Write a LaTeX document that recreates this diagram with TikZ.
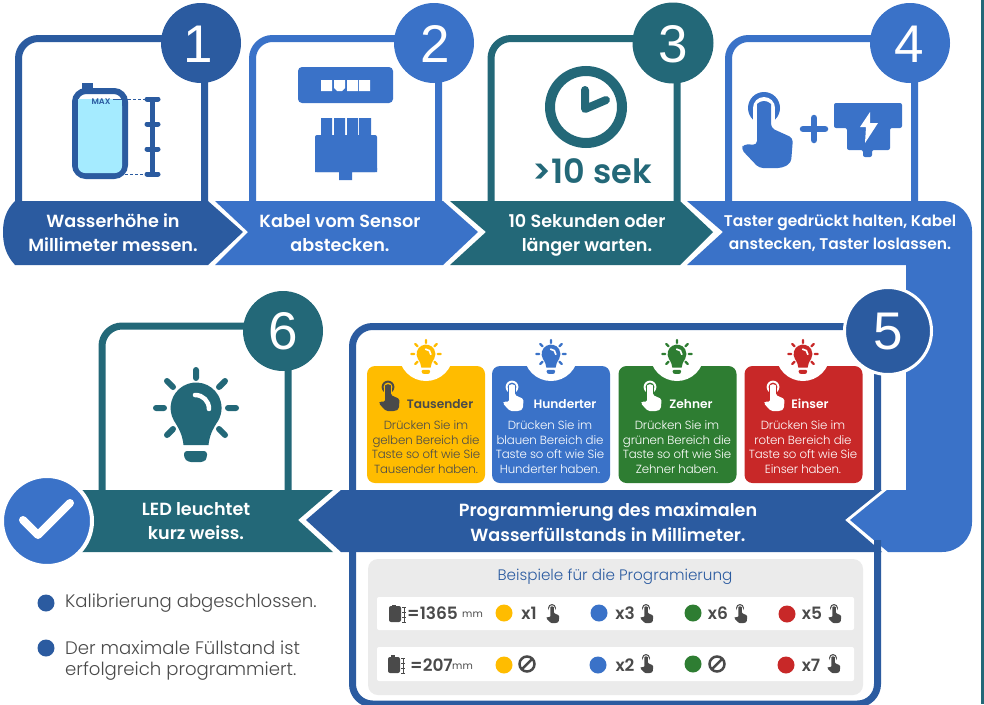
\documentclass[tikz,border=0pt]{standalone}
\usepackage{fontspec}
\setmainfont{Poppins}
\newfontfamily\numfont{Liberation Sans}
\newfontfamily\semif{Poppins SemiBold}
\newfontfamily\lightf{Poppins Light}
\definecolor{dkblue}{HTML}{2B5BA0}
\definecolor{midblue}{HTML}{3A72C8}
\definecolor{tealc}{HTML}{236878}
\definecolor{yel}{HTML}{FFBC00}
\definecolor{grn}{HTML}{2E7D32}
\definecolor{redc}{HTML}{C82828}
\definecolor{greyt}{HTML}{4A4A4A}
\definecolor{panelg}{HTML}{EBEBEB}
\definecolor{water}{HTML}{A5EBFF}
\newcommand{\fs}[1]{\fontsize{#1}{#1}\selectfont}
\newcommand{\handicon}[5]{%
\begin{scope}[shift={(#1,#2)},scale=#3]
\fill[#4] (0,0) circle (16);
\fill[#5] (0,0) circle (11);
\fill[#5] (-11,0) rectangle (11,18);
\fill[#4,rounded corners=#3*4pt] (-7,22) -- (-7,0) arc (180:360:7) -- (7,20) -- (29,30) -- (27,55) -- (18,60) -- (-5,60) -- (-23,41) -- (-20,36) -- (-7,37) -- cycle;
\end{scope}}
\newcommand{\bulbicon}[4]{%
\begin{scope}[shift={(#1,#2)},scale=#3]
\fill[#4] (-12.5,37) .. controls (-13.5,28) and (-16,22) .. (-22,12.75) arc[start angle=150,end angle=390,radius=25.5] .. controls (16,22) and (13.5,28) .. (12.5,37) -- cycle;
\fill[#4,rounded corners=#3*3pt] (-12,43) -- (11,43) -- (11,50) -- (8,54) -- (-8,54) -- (-12,50) -- cycle;
\draw[#4,line width=#3*6pt,line cap=round] (0,-38) -- (0,-30) (-40,0) -- (-32,0) (32,0) -- (40,0) (-29,-27) -- (-23,-21) (29,-27) -- (23,-21) (-29,27) -- (-23,21) (29,27) -- (23,21);
\draw[white,line width=#3*4.5pt,line cap=round] (-1,-13) .. controls (7,-13) and (13,-7) .. (13,1);
\end{scope}}
\newcommand{\cardbox}[3]{%
\fill[#3,rounded corners=8pt] (#1,366) rectangle (#1+118,483);
\begin{scope}
\clip (#1,366) rectangle (#1+118,483);
\fill[white] (#2,354) circle (27);
\end{scope}}
\begin{document}
\begin{tikzpicture}[x=1pt,y=-1pt,
  framec/.style={line width=7pt,rounded corners=20pt},
  bandtext/.style={white,font=\fs{17.6}\semif,align=center,inner sep=0,text depth=0pt},
  cardtext/.style={font=\fontsize{11.8}{14.7}\selectfont\lightf\addfontfeature{LetterSpace=-1},align=center,inner sep=0},
  cardtitle/.style={font=\fs{12.2}\semif,inner sep=0},
  num/.style={white,font=\fs{53}\numfont,inner sep=0},
  rowtext/.style={greyt,font=\fs{17}\semif,inner sep=0},
  dot/.style={circle,minimum size=17pt,inner sep=0},
  bullet/.style={greyt,font=\fs{18.1}\lightf,anchor=west,inner sep=0,align=left}]
\useasboundingbox (0,0) rectangle (984,704);
\fill[white] (0,0) rectangle (984,704);
\fill[tealc] (981,0) rectangle (984,704);
% panel frames
\draw[framec,dkblue] (18.5,201) -- (18.5,38.5) -- (204.5,38.5) -- (204.5,201);
\draw[framec,midblue] (252.5,201) -- (252.5,38.5) -- (438.5,38.5) -- (438.5,201);
\draw[framec,tealc] (491,201) -- (491,38.5) -- (677,38.5) -- (677,201);
\draw[framec,midblue] (728.5,201) -- (728.5,38.5) -- (914.5,38.5) -- (914.5,201);
\draw[framec,tealc] (102,490) -- (102,326) -- (288,326) -- (288,490);
% band 4 (large blue)
\fill[midblue] (687,201) -- (942,201) arc (-90:0:30) -- (972,522) arc (0:90:30) -- (888,552) -- (850,520) -- (887,490) -- (906,490) -- (906,265) -- (687,265) -- (723,232) -- cycle;
\draw[framec,dkblue] (352.5,490) -- (352.5,326.5) -- (877.5,326.5) -- (877.5,490);
\draw[framec,dkblue] (352.5,540) -- (352.5,704) -- (877.5,704) -- (877.5,540);
% bands
\fill[dkblue] (15,201) -- (208,201) -- (243,232) -- (208,265) -- (15,265) .. controls (6,255) and (3,245) .. (3,232) .. controls (3,220) and (6,210) .. (15,201) -- cycle;
\fill[midblue] (215,201) -- (443,201) -- (478,232) -- (443,265) -- (215,265) -- (248,232) -- cycle;
\fill[tealc] (450,201) -- (680,201) -- (713,232) -- (680,265) -- (450,265) -- (486,232) -- cycle;
\fill[tealc] (60,490) -- (333,490) -- (298,520) -- (333,552) -- (60,552) -- cycle;
\fill[dkblue] (341,490) -- (882,490) -- (845,520) -- (882,552) -- (341,552) -- (306,520) -- cycle;
% circles
\fill[dkblue] (201,43) circle (40);
\fill[midblue] (434,43) circle (40);
\fill[tealc] (673,43) circle (40.5);
\fill[midblue] (910,43) circle (40);
\fill[dkblue,draw=white,line width=3pt] (888,331) circle (43.5);
\fill[tealc] (283,331) circle (40);
\fill[midblue,draw=white,line width=4pt] (47,521) circle (45);
\draw[white,line width=8pt,line cap=round,line join=round] (23,520) -- (38,535) -- (70,503);
\node[num] (n1) at (198,44) {1};
\node[num] (n2) at (435,44) {2};
\node[num] (n3) at (673,44) {3};
\node[num] (n4) at (909,44) {4};
\node[num] (n5) at (888,332) {5};
\node[num] (n6) at (283,331) {6};
% band labels
\node[bandtext] (b1) at (113,233) {Wasserhöhe in\\[6.4pt]Millimeter messen.};
\node[bandtext] (b2) at (340,233) {Kabel vom Sensor\\[6.4pt]abstecken.};
\node[bandtext] (b3) at (587,233) {10 Sekunden oder\\[6.4pt]länger warten.};
\node[bandtext,font=\fs{15.5}\semif] (b4) at (840,232) {Taster gedrückt halten, Kabel\\[6.5pt]anstecken, Taster loslassen.};
\node[bandtext] (b5) at (608,522) {Programmierung des maximalen\\[5.9pt]Wasserfüllstands in Millimeter.};
\node[bandtext] (b6) at (196,521) {LED leuchtet\\[6.4pt]kurz weiss.};
% tank
\fill[dkblue] (82,83) rectangle (93,90);
\fill[white,draw=dkblue,line width=6pt,rounded corners=11pt] (75,91) rectangle (125,176);
\fill[water,rounded corners=7pt] (78,99) -- (122,99) -- (122,173) -- (78,173) -- cycle;
\fill[water] (78,99) rectangle (122,110);
\node[font=\fs{8.2}\semif,text=dkblue,inner sep=0] (maxt) at (101,102) {MAX};
\draw[dkblue,line width=1pt] (113,99) -- (128,99);
\draw[dkblue,line width=1pt,densely dashed] (128,99) -- (145,99) (125,174) -- (145,174);
\draw[dkblue,line width=5pt] (152,99) -- (152,174);
\draw[dkblue,line width=5pt,line cap=round] (147,99) -- (158,99) (147,124) -- (158,124) (147,149) -- (158,149) (147,174) -- (158,174);
% sensor
\fill[midblue,rounded corners=4pt] (298,67) rectangle (393,103);
\fill[white] (321,80) rectangle (332,91) (347,80) rectangle (358,91) (359,80) rectangle (370,91);
\fill[white] (334,80) -- (345,80) -- (345,88) -- (342,91) -- (337,91) -- (334,88) -- cycle;
\fill[midblue] (321,118) rectangle (332,136) (334,118) rectangle (345,136) (347,118) rectangle (358,136) (359,118) rectangle (371,136);
\fill[midblue,rounded corners=2pt] (315,172) -- (315,135) -- (377,135) -- (377,172) -- cycle;
\fill[midblue] (315,168) rectangle (377,172) (339,170) rectangle (352,180);
% clock
\draw[tealc,line width=10pt] (586,107) circle (36);
\draw[tealc,line width=8pt,line cap=round,line join=round] (585,90) -- (585,109) -- (606,100);
\node[tealc,font=\fs{33.5}\semif,inner sep=0] (sek) at (592,171) {>10 sek};
% panel 4 icons
\handicon{764}{108}{1}{midblue}{white}
\draw[midblue,line width=6.5pt,line cap=round] (803,129) -- (825,129) (814,118) -- (814,140);
\fill[midblue,rounded corners=2pt] (834,103) -- (902,103) -- (902,128) -- (890,128) -- (890,150) -- (872,150) -- (872,157) -- (863,157) -- (863,150) -- (847,150) -- (847,128) -- (834,128) -- cycle;
\fill[white] (870,112) -- (860,127) -- (866,127) -- (865,143) -- (878,123) -- (870,123) -- cycle;
% panel 6 bulb
\bulbicon{196}{408}{1}{tealc}
% cards
\cardbox{367}{426}{yel}
\cardbox{492}{551}{midblue}
\cardbox{618.5}{677}{grn}
\cardbox{744.5}{803}{redc}
\bulbicon{426}{354}{0.37}{yel}
\bulbicon{551}{354}{0.37}{midblue}
\bulbicon{677}{354}{0.37}{grn}
\bulbicon{803}{354}{0.37}{redc}
\handicon{388}{387}{0.4}{greyt}{yel}
\handicon{512}{387}{0.4}{white}{midblue}
\handicon{650}{387}{0.4}{white}{grn}
\handicon{773}{387}{0.4}{white}{redc}
\node[cardtitle,text=greyt] (t1) at (440,404) {Tausender};
\node[cardtitle,text=white] (t2) at (565,404) {Hunderter};
\node[cardtitle,text=white] (t3) at (691,404) {Zehner};
\node[cardtitle,text=white] (t4) at (810,404) {Einser};
\node[cardtext,text=greyt] (c1) at (426,447) {Drücken Sie im\\gelben Bereich die\\Taste so oft wie Sie\\Tausender haben.};
\node[cardtext,text=white] (c2) at (550,447) {Drücken Sie im\\blauen Bereich die\\Taste so oft wie Sie\\Hunderter haben.};
\node[cardtext,text=white] (c3) at (677,447) {Drücken Sie im\\grünen Bereich die\\Taste so oft wie Sie\\Zehner haben.};
\node[cardtext,text=white] (c4) at (803,447) {Drücken Sie im\\roten Bereich die\\Taste so oft wie Sie\\Einser haben.};
% examples
\fill[panelg,rounded corners=10pt] (368,559) rectangle (863,695);
\fill[white,rounded corners=2pt] (377,597) rectangle (854,630);
\fill[white,rounded corners=2pt] (377,647) rectangle (854,681);
\node[dkblue,font=\fs{15.2}\lightf,inner sep=0] (ex) at (615,577) {Beispiele für die Programierung};
% row 1
\fill[greyt,rounded corners=2pt] (389,606) rectangle (401,622);
\fill[greyt] (392,604.5) rectangle (396,607);
\draw[greyt,line width=0.8pt] (404,607) -- (404,622) (402,607) -- (406,607) (402,612) -- (406,612) (402,617) -- (406,617) (402,622) -- (406,622);
\node[rowtext,anchor=west] (r1) at (407,613) {=1365};
\node[greyt,font=\fs{10},inner sep=0,anchor=west] (m1) at (462,615) {mm};
\node[dot,fill=yel] (d11) at (504,613) {};
\node[dot,fill=midblue] (d12) at (599,613) {};
\node[dot,fill=grn] (d13) at (693,613) {};
\node[dot,fill=redc] (d14) at (787,614) {};
\node[rowtext] (x11) at (529,613) {x1};
\node[rowtext] (x12) at (625,613) {x3};
\node[rowtext] (x13) at (718,613) {x6};
\node[rowtext] (x14) at (812,613) {x5};
\handicon{552}{608}{0.25}{greyt}{white}
\handicon{646}{608}{0.25}{greyt}{white}
\handicon{740}{608}{0.25}{greyt}{white}
\handicon{834}{608}{0.25}{greyt}{white}
% row 2
\fill[greyt,rounded corners=2pt] (388,657) rectangle (400,673);
\fill[greyt] (391,655) rectangle (395,658);
\draw[greyt,line width=0.8pt] (403,658) -- (403,673) (401,658) -- (405,658) (401,663) -- (405,663) (401,668) -- (405,668) (401,673) -- (405,673);
\node[rowtext,anchor=west] (r2) at (410,665) {=207};
\node[greyt,font=\fs{10},inner sep=0,anchor=west] (m2) at (452,667) {mm};
\node[dot,fill=yel] (d21) at (504,665) {};
\node[dot,fill=midblue] (d22) at (598,665) {};
\node[dot,fill=grn] (d23) at (693,664) {};
\node[dot,fill=redc] (d24) at (786,665) {};
\node[rowtext] (x22) at (625,665) {x2};
\node[rowtext] (x24) at (811,665) {x7};
\draw[greyt,line width=2.5pt] (527,664) circle (7.5) (521.7,669.3) -- (532.3,658.7);
\draw[greyt,line width=2.5pt] (717,664) circle (7.5) (711.7,669.3) -- (722.3,658.7);
\handicon{646}{658}{0.25}{greyt}{white}
\handicon{833}{658}{0.25}{greyt}{white}
% bullets
\node[dot,fill=dkblue] (p1) at (46,603) {};
\node[dot,fill=dkblue] (p2) at (46,648) {};
\node[bullet] (l1) at (65,603) {Kalibrierung abgeschlossen.};
\node[bullet] (l2) at (65,648) {Der maximale Füllstand ist};
\node[bullet] (l3) at (65,671) {erfolgreich programmiert.};
\end{tikzpicture}
\end{document}
